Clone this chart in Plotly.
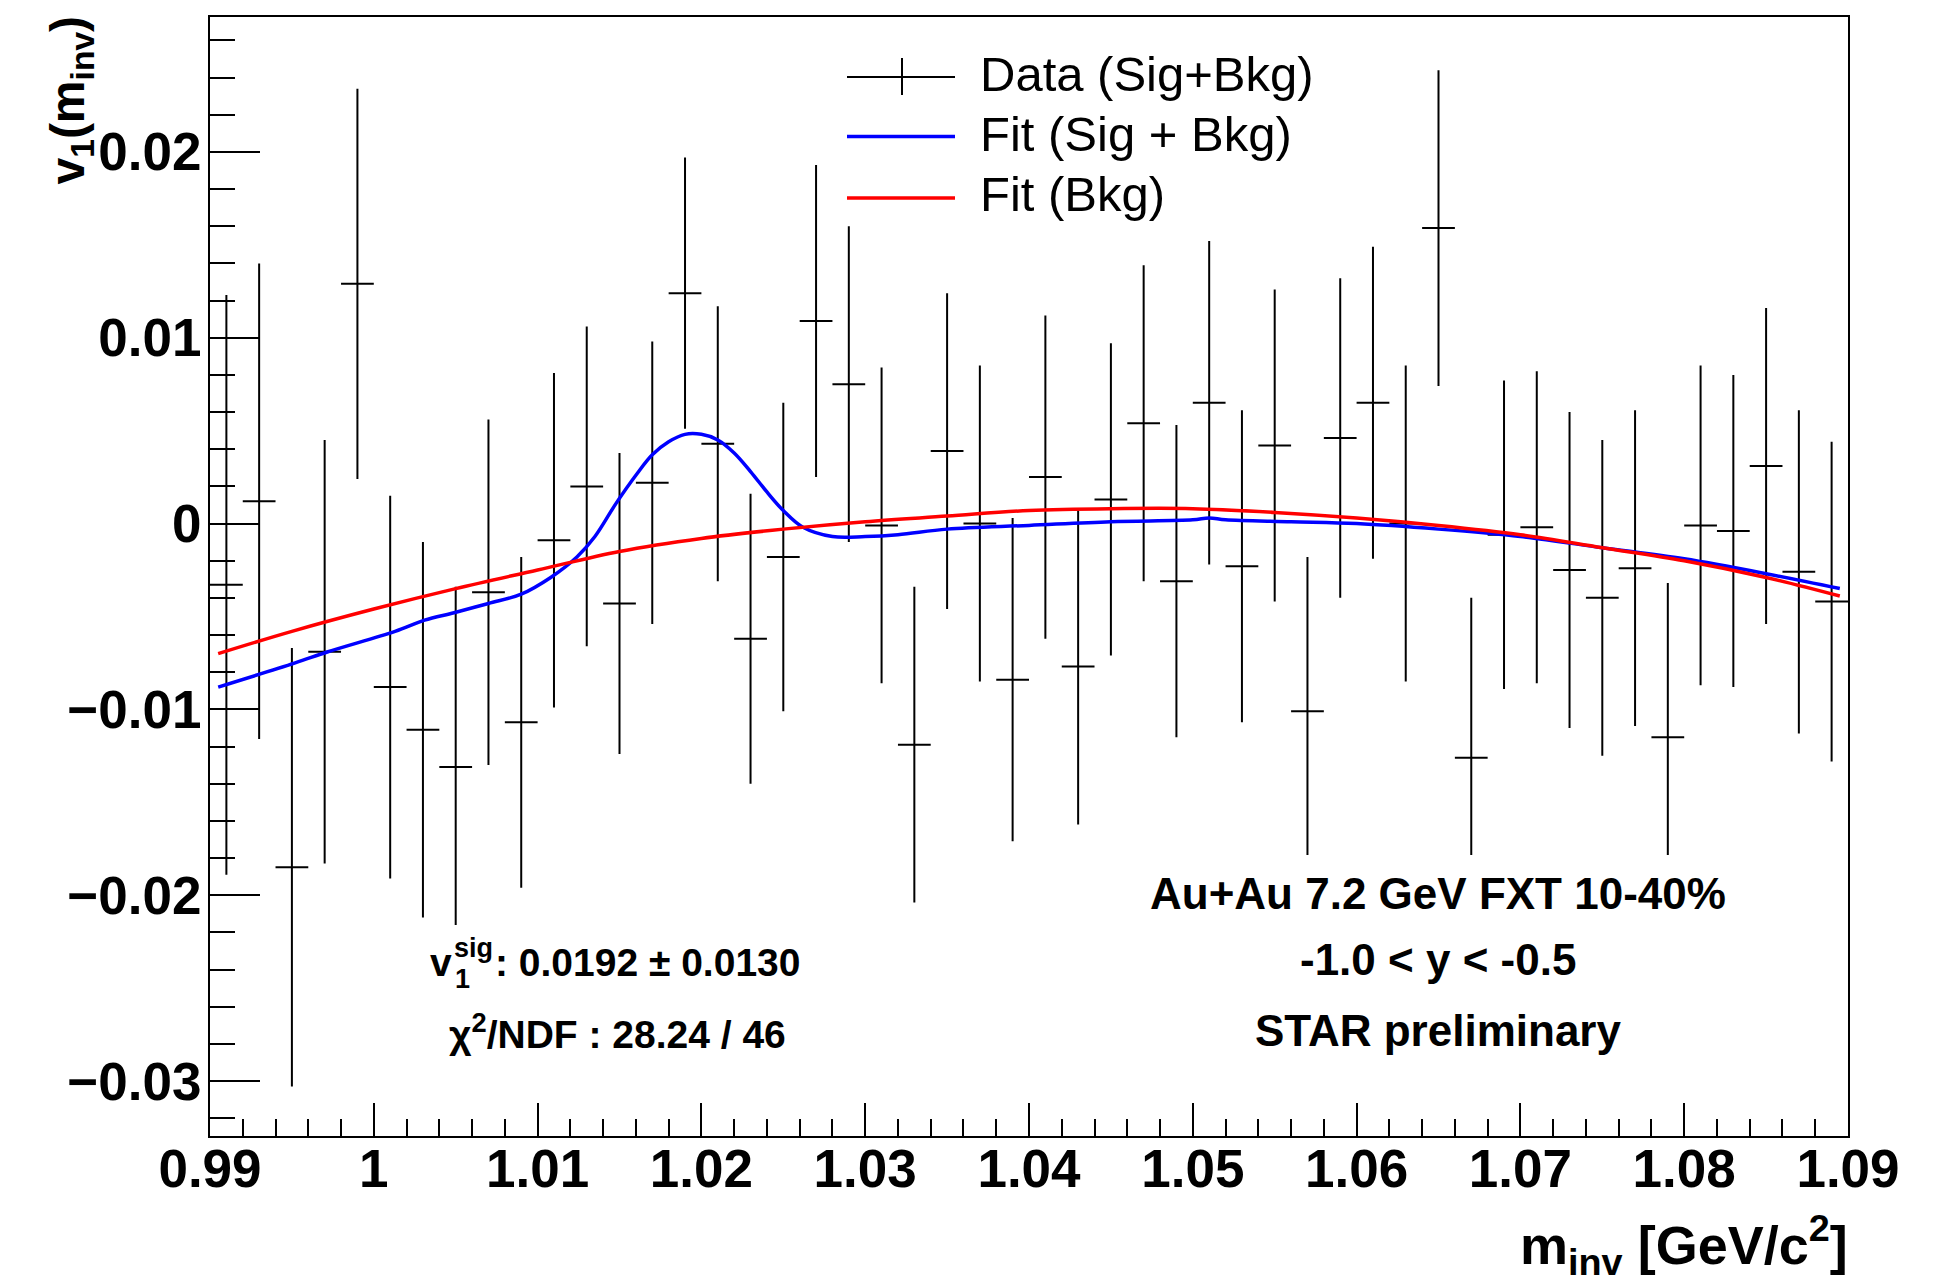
import plotly.graph_objects as go

# ---------------- data ----------------
mass = [0.991, 0.993, 0.995, 0.997, 0.999, 1.001, 1.003, 1.005, 1.007, 1.009,
        1.011, 1.013, 1.015, 1.017, 1.019, 1.021, 1.023, 1.025, 1.027, 1.029,
        1.031, 1.033, 1.035, 1.037, 1.039, 1.041, 1.043, 1.045, 1.047, 1.049,
        1.051, 1.053, 1.055, 1.057, 1.059, 1.061, 1.063, 1.065, 1.067, 1.069,
        1.071, 1.073, 1.075, 1.077, 1.079, 1.081, 1.083, 1.085, 1.087, 1.089]

v1 = [-0.0033, 0.0012, -0.0185, -0.0069, 0.0129, -0.0088, -0.0111, -0.0131, -0.0037, -0.0107,
      -0.0009, 0.0020, -0.0043, 0.0022, 0.0124, 0.0043, -0.0062, -0.0018, 0.0109, 0.0075,
      -0.0001, -0.0119, 0.0039, 0.0000, -0.0084, 0.0025, -0.0077, 0.0013, 0.0054, -0.0031,
      0.0065, -0.0023, 0.0042, -0.0101, 0.0046, 0.0065, 0.0000, 0.0159, -0.0126, -0.0006,
      -0.0002, -0.0025, -0.0040, -0.0024, -0.0115, -0.0001, -0.0004, 0.0031, -0.0026, -0.0042]

v1_err = [0.0156, 0.0128, 0.0118, 0.0114, 0.0105, 0.0103, 0.0101, 0.0097, 0.0093, 0.0089,
          0.0090, 0.0086, 0.0081, 0.0076, 0.0073, 0.0074, 0.0078, 0.0083, 0.0084, 0.0085,
          0.0085, 0.0085, 0.0085, 0.0085, 0.0087, 0.0087, 0.0085, 0.0084, 0.0085, 0.0084,
          0.0087, 0.0084, 0.0084, 0.0083, 0.0086, 0.0084, 0.0085, 0.0085, 0.0086, 0.0083,
          0.0084, 0.0085, 0.0085, 0.0085, 0.0083, 0.0086, 0.0084, 0.0085, 0.0087, 0.0086]

bin_half_width = 0.001

bkg_x = [0.9905, 0.995, 1.000, 1.005, 1.010, 1.015, 1.020, 1.025, 1.030, 1.035, 1.040,
         1.045, 1.050, 1.055, 1.060, 1.065, 1.070, 1.075, 1.080, 1.085, 1.0895]
bkg_y = [-0.0070, -0.0058, -0.0046, -0.0035, -0.0025, -0.0015, -0.0008, -0.0003, 0.0001, 0.0004, 0.0007,
         0.0008, 0.0008, 0.0006, 0.0003, -0.0001, -0.0006, -0.0013, -0.0020, -0.0029, -0.0039]

tot_x = [0.9905, 0.9952, 0.9972, 1.0013, 1.0031, 1.0049, 1.0070, 1.0090, 1.0108, 1.0124,
         1.0135, 1.0148, 1.0160, 1.0170, 1.0180, 1.0190, 1.0200, 1.0210, 1.0220, 1.0230,
         1.0240, 1.0250, 1.0262, 1.0280, 1.0300, 1.0320, 1.0350, 1.0400, 1.0450, 1.0500,
         1.0510, 1.0520, 1.0560, 1.0600, 1.0650, 1.0700, 1.0750, 1.0800, 1.0850, 1.0895]
tot_y = [-0.0088, -0.0075, -0.0069, -0.0058, -0.0052, -0.0048, -0.0043, -0.0038, -0.0029, -0.0018,
         -0.0007, 0.0011, 0.0026, 0.0037, 0.0044, 0.0048, 0.0048, 0.0045, 0.0038, 0.0028,
         0.0017, 0.0007, -0.0002, -0.0007, -0.0007, -0.0006, -0.0003, -0.0001, 0.0001, 0.0002,
         0.0003, 0.0002, 0.0001, 0.0000, -0.0003, -0.0007, -0.0013, -0.0019, -0.0027, -0.0035]

x_tick_vals = [0.99, 1.00, 1.01, 1.02, 1.03, 1.04, 1.05, 1.06, 1.07, 1.08, 1.09]
x_tick_text = ["0.99", "1", "1.01", "1.02", "1.03", "1.04", "1.05", "1.06", "1.07", "1.08", "1.09"]
y_tick_vals = [-0.03, -0.02, -0.01, 0.0, 0.01, 0.02]
y_tick_text = ["\u22120.03", "\u22120.02", "\u22120.01", "0", "0.01", "0.02"]

legend_labels = ["Data (Sig+Bkg)", "Fit (Sig + Bkg)", "Fit (Bkg)"]

# ---------------- layout geometry (pixels) ----------------
W, H = 1941, 1277
L, R, T, B = 210, 1848, 17, 1136
FONT = "Liberation Sans"


def px(x):
    return (x - L) / (R - L)


def py(y):
    return (B - y) / (B - T)


fig = go.Figure()

fig.add_trace(go.Scatter(
    x=mass, y=v1, mode="markers",
    marker=dict(size=1, color="rgba(0,0,0,0)", line=dict(width=0)),
    error_x=dict(type="constant", value=bin_half_width, width=0, thickness=2, color="black"),
    error_y=dict(type="data", array=v1_err, width=0, thickness=2, color="black"),
    showlegend=False, hoverinfo="skip",
))
fig.add_trace(go.Scatter(
    x=tot_x, y=tot_y, mode="lines", line=dict(color="#0000ff", width=3.5, shape="spline"),
    showlegend=False, hoverinfo="skip",
))
fig.add_trace(go.Scatter(
    x=bkg_x, y=bkg_y, mode="lines", line=dict(color="#ff0000", width=3.5, shape="spline"),
    showlegend=False, hoverinfo="skip",
))

shapes = []
# white text boxes (TPaveText) that hide parts of the error bars
shapes.append(dict(type="rect", xref="paper", yref="paper", layer="above",
                   x0=px(432), x1=px(812), y0=py(1075), y1=py(925),
                   fillcolor="white", line=dict(width=0)))
shapes.append(dict(type="rect", xref="paper", yref="paper", layer="above",
                   x0=px(1140), x1=px(1745), y0=py(1075), y1=py(855),
                   fillcolor="white", line=dict(width=0)))
# legend keys
shapes.append(dict(type="line", xref="paper", yref="paper", layer="above",
                   x0=px(847), x1=px(955), y0=py(77), y1=py(77), line=dict(color="black", width=2)))
shapes.append(dict(type="line", xref="paper", yref="paper", layer="above",
                   x0=px(902), x1=px(902), y0=py(58), y1=py(95), line=dict(color="black", width=2)))
shapes.append(dict(type="line", xref="paper", yref="paper", layer="above",
                   x0=px(847), x1=px(955), y0=py(136.5), y1=py(136.5), line=dict(color="#0000ff", width=3.5)))
shapes.append(dict(type="line", xref="paper", yref="paper", layer="above",
                   x0=px(847), x1=px(955), y0=py(198), y1=py(198), line=dict(color="#ff0000", width=3.5)))

ann = []
for lab, yc in zip(legend_labels, [74, 134, 194]):
    ann.append(dict(text=lab, xref="paper", yref="paper", x=px(978), y=py(yc),
                    xanchor="left", yanchor="middle", showarrow=False,
                    font=dict(family=FONT, size=49, color="black")))

bold = dict(family=FONT, color="black", weight="bold")
# right text block
for txt, yc in zip(["Au+Au 7.2 GeV FXT 10-40%", "-1.0 < y < -0.5", "STAR preliminary"], [893, 959, 1030]):
    ann.append(dict(text=txt, xref="paper", yref="paper", x=px(1438), y=py(yc),
                    xanchor="center", yanchor="middle", showarrow=False,
                    font=dict(size=44, **bold)))
# left text block
ann.append(dict(text="v", xref="paper", yref="paper", x=px(428), y=py(962),
                xanchor="left", yanchor="middle", showarrow=False, font=dict(size=39, **bold)))
ann.append(dict(text="sig", xref="paper", yref="paper", x=px(452), y=py(948),
                xanchor="left", yanchor="middle", showarrow=False, font=dict(size=27, **bold)))
ann.append(dict(text="1", xref="paper", yref="paper", x=px(453), y=py(979),
                xanchor="left", yanchor="middle", showarrow=False, font=dict(size=27, **bold)))
ann.append(dict(text=": 0.0192 \u00b1 0.0130", xref="paper", yref="paper", x=px(493), y=py(962),
                xanchor="left", yanchor="middle", showarrow=False, font=dict(size=39, **bold)))
ann.append(dict(text="\u03c7<sup>2</sup>/NDF : 28.24 / 46", xref="paper", yref="paper", x=px(617), y=py(1031),
                xanchor="center", yanchor="middle", showarrow=False, font=dict(size=39, **bold)))
# axis titles
ann.append(dict(text="v<sub>1</sub>(m<sub>inv</sub>)", xref="paper", yref="paper", x=px(70), y=py(14),
                xanchor="center", yanchor="top", textangle=-90, showarrow=False,
                font=dict(size=48, **bold)))
ann.append(dict(text="m<sub>inv</sub> [GeV/c<sup>2</sup>]", xref="paper", yref="paper", x=px(1850), y=py(1245),
                xanchor="right", yanchor="middle", showarrow=False,
                font=dict(size=54, **bold)))

fig.update_layout(
    width=W, height=H,
    margin=dict(l=L, r=W - R, t=T, b=H - B, pad=0),
    paper_bgcolor="white", plot_bgcolor="white",
    showlegend=False,
    shapes=shapes, annotations=ann,
    xaxis=dict(range=[0.99, 1.09], tickmode="array", tickvals=x_tick_vals, ticktext=x_tick_text,
               ticks="inside", ticklen=33, tickwidth=2, tickcolor="black", ticklabelstandoff=-15,
               minor=dict(ticks="inside", ticklen=17, tickwidth=2, tickcolor="black", dtick=0.002, tick0=0.99,
                          showgrid=False),
               showline=True, linecolor="black", linewidth=2, mirror=True,
               showgrid=False, zeroline=False,
               tickfont=dict(family=FONT, size=53, color="black", weight="bold")),
    yaxis=dict(range=[-0.03296, 0.02726], tickmode="array", tickvals=y_tick_vals, ticktext=y_tick_text,
               ticks="inside", ticklen=50, tickwidth=2, tickcolor="black", ticklabelstandoff=-4,
               minor=dict(ticks="inside", ticklen=25, tickwidth=2, tickcolor="black", dtick=0.002, tick0=0,
                          showgrid=False),
               showline=True, linecolor="black", linewidth=2, mirror=True,
               showgrid=False, zeroline=False,
               tickfont=dict(family=FONT, size=53, color="black", weight="bold")),
)

fig.write_html("out.html", config={"displayModeBar": False},
               post_script="document.body.style.margin='0';document.body.style.overflow='hidden';")
